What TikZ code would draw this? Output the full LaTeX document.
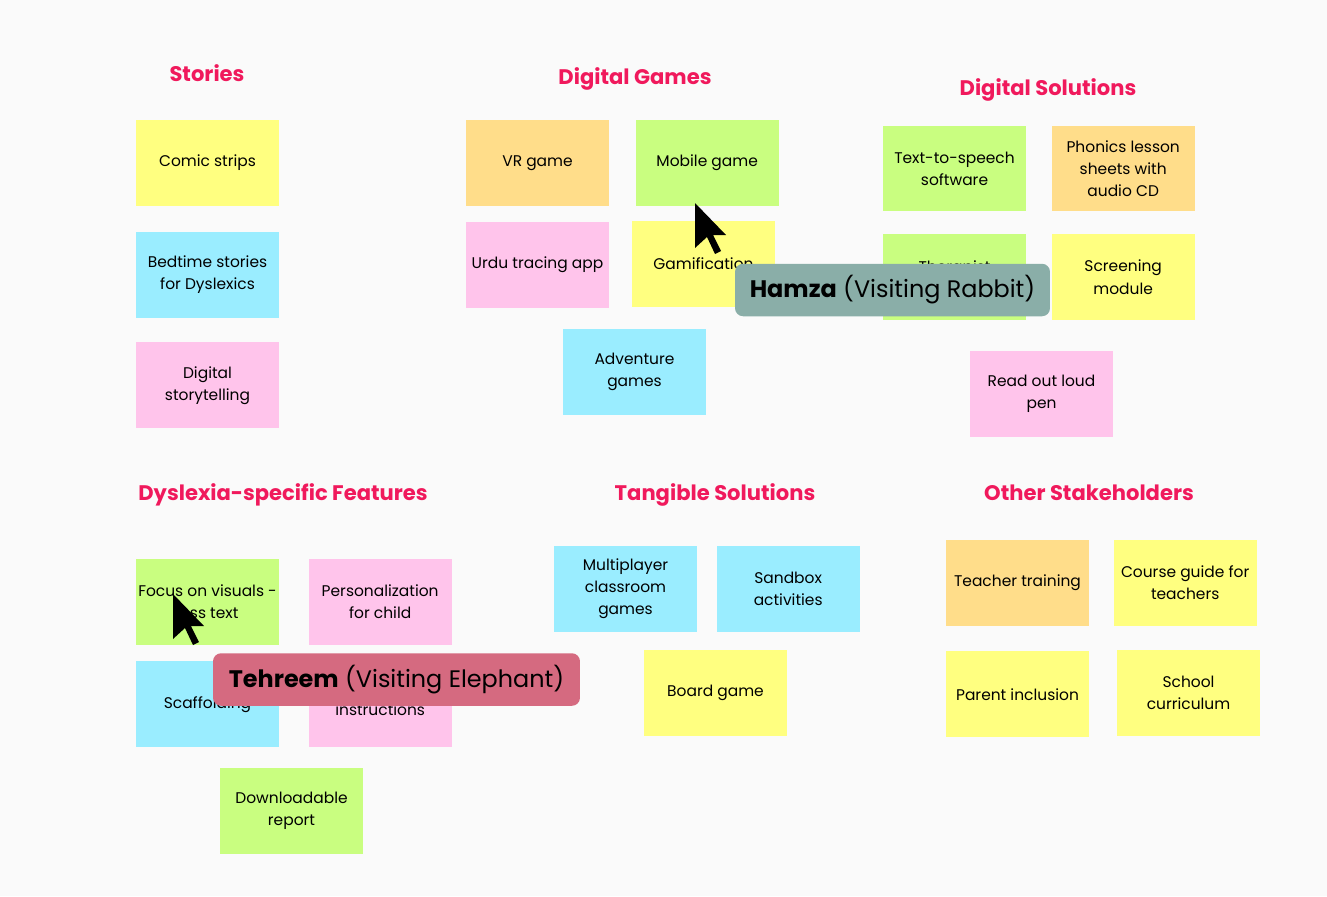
\documentclass[tikz,border=0pt]{standalone}
\usepackage{fontspec}
\setmainfont{Poppins}
\usepackage{tikz}
\usetikzlibrary{positioning}
\definecolor{boardbg}  {HTML} {FAFAFA}
\definecolor{headpink} {HTML} {F0195C}
\definecolor{noteyellow}{HTML}{FFFF80}
\definecolor{notegreen}{HTML} {C9FE80}
\definecolor{noteorange}{HTML}{FFDD8A}
\definecolor{notepink} {HTML} {FFC4EB}
\definecolor{noteblue} {HTML} {9AEDFF}
\definecolor{rabbit}   {HTML} {8AAEA8}
\definecolor{elephant} {HTML} {D56A80}
\newcommand{\pointer}[1]{\fill[black, shift={(#1)}] (0,0) -- (0,45) -- (12,34) -- (20,51) -- (26,48) -- (18,32) -- (31,32) -- cycle;}

\begin{document}
\begin{tikzpicture}[x=0.02cm, y=-0.02cm,
    note/.style = {fill=#1, minimum width=2.86cm, minimum height=1.72cm, align=center,
                   inner sep=1pt, font=\fontsize{8.8}{12.6}\selectfont},
    heading/.style = {text=headpink, font=\bfseries\fontsize{12}{14}\selectfont},
    tag/.style = {fill=#1, rounded corners=0.16cm, minimum height=1.05cm,
                  font=\fontsize{13.6}{16}\selectfont}]
        \fill[boardbg] (0,0) rectangle (1327,896);
        \useasboundingbox (0,0) rectangle (1327,896);
        % headings
        \node[heading] (hstories) at (207,73) {Stories};
        \node[heading] (hgames) at (635,79) {Digital Games};
        \node[heading] (hsolutions) at (1048,90) {Digital Solutions};
        \node[heading] (hfeatures) at (283,495) {Dyslexia-specific Features};
        \node[heading] (htangible) at (715,495) {Tangible Solutions};
        \node[heading] (hother) at (1089,493) {Other Stakeholders};
        % stories
        \node[note=noteyellow] (comic) at (207.5,163) {Comic strips};
        \node[note=noteblue, below = 0.5cm of comic] (bedtime) {Bedtime stories\\for Dyslexics};
        \node[note=notepink, below = 0.48cm of bedtime] (storytelling) {Digital\\storytelling};
        % digital games
        \node[note=noteorange] (vr) at (537.5,163) {VR game};
        \node[note=notegreen, right = 0.52cm of vr] (mobile) {Mobile game};
        \node[note=notepink, below = 0.3cm of vr] (urdu) {Urdu tracing app};
        \node[note=noteyellow] (gamif) at (703.5,264) {Gamification};
        \node[note=noteblue] (adventure) at (634.5,371.5) {Adventure\\games};
        % digital solutions
        \node[note=notegreen] (tts) at (954.5,168.5) {Text-to-speech\\software};
        \node[note=noteorange, right = 0.5cm of tts] (phonics) {Phonics lesson\\sheets with\\audio CD};
        \node[note=notegreen, below = 0.44cm of tts] (therapist) {Therapist\\\mbox{}};
        \node[note=noteyellow, below = 0.44cm of phonics] (screening) {Screening\\module};
        \node[note=notepink] (pen) at (1041.5,394) {Read out loud\\pen};
        % dyslexia-specific features
        \node[note=notegreen] (visuals) at (207.5,601.5) {Focus on visuals -\\less text};
        \node[note=notepink, right = 0.58cm of visuals] (personal) {Personalization\\for child};
        \node[note=noteblue, below = 0.32cm of visuals] (scaffold) {Scaffolding};
        \node[note=notepink, below = 0.32cm of personal] (instruct) {\mbox{}\\instructions};
        \node[note=notegreen] (report) at (291.5,810.5) {Downloadable\\report};
        % tangible solutions
        \node[note=noteblue] (multi) at (625.5,588.5) {Multiplayer\\classroom\\games};
        \node[note=noteblue, right = 0.38cm of multi] (sandbox) {Sandbox\\activities};
        \node[note=noteyellow] (board) at (715.5,692.5) {Board game};
        % other stakeholders
        \node[note=noteorange] (teacher) at (1017.5,582.5) {Teacher training};
        \node[note=noteyellow, right = 0.48cm of teacher] (course) {Course guide for\\teachers};
        \node[note=noteyellow, below = 0.5cm of teacher] (parent) {Parent inclusion};
        \node[note=noteyellow] (school) at (1188.5,692.5) {School\\curriculum};
        % visitors
        \coordinate (hamzatip) at (695,203);
        \coordinate (tehreemtip) at (173,594);
        \pointer{hamzatip}
        \pointer{tehreemtip}
        \node[tag=rabbit, minimum width=6.3cm] (hamza) at (892.5,290) {\textbf{Hamza} (Visiting Rabbit)};
        \node[tag=elephant, minimum width=7.34cm] (tehreem) at (396.5,679.5) {\textbf{Tehreem} (Visiting Elephant)};
\end{tikzpicture}
\end{document}
